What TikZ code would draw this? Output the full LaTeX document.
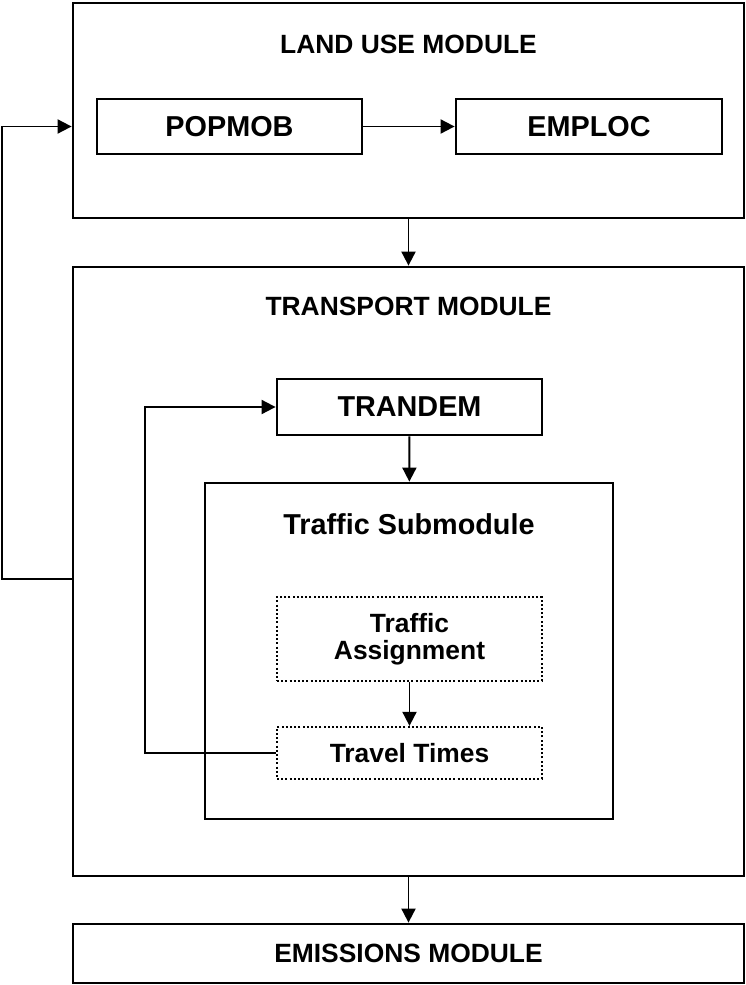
\documentclass[tikz,border=0pt]{standalone}
\usepackage{fontspec}
\setmainfont{Liberation Sans}
\usepackage{tikz}
\usetikzlibrary{arrows.meta,positioning}

\newcommand{\modulefont}{\fontsize{26.4}{30.5}\selectfont\bfseries}
\newcommand{\blockfont}{\fontsize{28.8}{33}\selectfont\bfseries}

\begin{document}
\begin{tikzpicture}[
  x=1pt, y=-1pt,
  frame/.style={draw, line width=2.8pt, inner sep=0pt},
  title/.style={font=\modulefont, inner sep=0pt},
  box/.style={draw, line width=2.8pt, align=center, font=\blockfont, inner sep=0pt},
  subbox/.style={draw, line width=2.3pt, dash pattern=on 2pt off 2.2pt,
                 align=center, font=\modulefont, inner sep=0pt,
                 minimum width=265pt},
  flow/.style={-{Triangle[length=14pt,width=14pt]}, line width=1.9pt}
]
\useasboundingbox (0,0) rectangle (746,985);

% land use
\node[frame, minimum width=671pt, minimum height=215pt] (landuse) at (408.5,110.5) {};
\node[title] (landusetitle) at (408.5,44.5) {LAND USE MODULE};
\node[box, minimum width=265pt, minimum height=55pt] (popmob) at (229.5,126.5) {POPMOB};
\node[box, minimum width=266pt, minimum height=55pt] (emploc) at (589,126.5) {EMPLOC};
\draw[flow] (popmob) -- (emploc);

% transport
\node[frame, minimum width=671pt, minimum height=609pt] (transport) at (408.5,571.5) {};
\node[title] (transporttitle) at (408.5,306.5) {TRANSPORT MODULE};
\node[box, minimum width=265pt, minimum height=56pt] (trandem) at (409.5,407) {TRANDEM};
\node[frame, minimum width=408pt, minimum height=336pt] (traffic) at (409,651) {};
\node[font=\blockfont, inner sep=0pt] (traffictitle) at (409,524) {Traffic Submodule};
\node[subbox, minimum height=84pt] (assign) at (409.5,639) {Traffic\\[-3pt]Assignment};
\node[subbox, minimum height=52pt] (travel) at (409.5,753) {Travel Times};

% emissions
\node[frame, font=\modulefont, minimum width=671pt, minimum height=59pt] (emissions) at (408.5,953.5) {EMISSIONS MODULE};

\coordinate (outerloop) at (2,579);
\coordinate (innerloop) at (145,752);

\draw[flow] (landuse) -- (transport);
\draw[flow] (trandem) -- (traffic);
\draw[flow] (assign) -- (travel);
\draw[flow] (transport) -- (emissions);
\draw[flow] (travel.west) -- (travel.west -| innerloop) |- (trandem.west);
\draw[flow] (transport.west |- outerloop) -- (outerloop) |- (landuse.west |- popmob);
\end{tikzpicture}
\end{document}
